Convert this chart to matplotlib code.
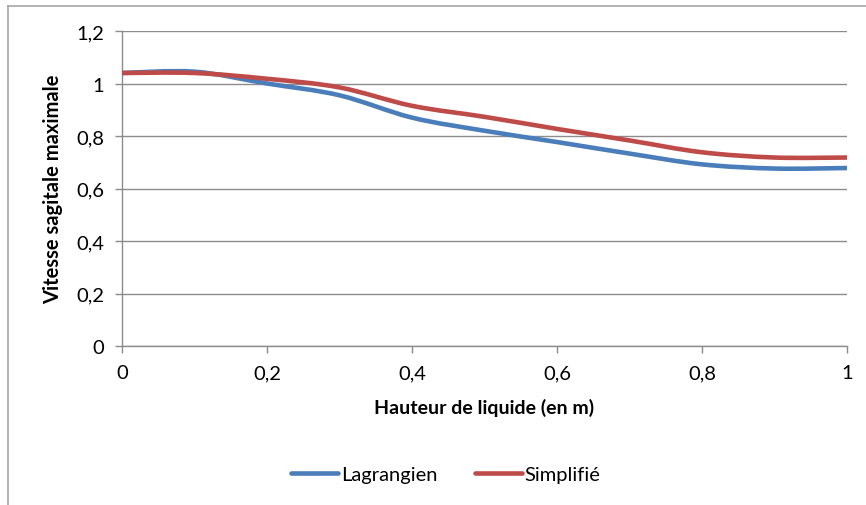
import matplotlib
matplotlib.use("Agg")
import matplotlib.pyplot as plt
from matplotlib.path import Path
from matplotlib.patches import PathPatch
from matplotlib.lines import Line2D
from matplotlib.ticker import FuncFormatter
import numpy as np

# Hauteur de liquide (m)
hauteur = [0.0, 0.1, 0.2, 0.3, 0.4, 0.5, 0.6, 0.7, 0.8, 0.9, 1.0]
# Vitesse sagitale maximale
lagrangien = [1.04, 1.045, 1.00, 0.955, 0.87, 0.82, 0.777, 0.733, 0.692, 0.676, 0.678]
simplifie = [1.04, 1.04, 1.018, 0.985, 0.915, 0.873, 0.827, 0.783, 0.738, 0.718, 0.718]

x_ticks = [0, 0.2, 0.4, 0.6, 0.8, 1.0]
y_ticks = [0, 0.2, 0.4, 0.6, 0.8, 1.0, 1.2]

FONT = "Lato"
FS = 14.5
BLUE = "#4A7EBB"
RED = "#BE4B48"
GRID = "#8C8C8C"


def smooth_path(xs, ys):
    """Smoothed line (Catmull-Rom as cubic Bezier segments) through the points."""
    pts = np.column_stack([xs, ys]).astype(float)
    n = len(pts)
    verts = [pts[0]]
    codes = [Path.MOVETO]
    for i in range(n - 1):
        p0 = pts[i - 1] if i > 0 else pts[i]
        p1 = pts[i]
        p2 = pts[i + 1]
        p3 = pts[i + 2] if i + 2 < n else pts[i + 1]
        c1 = p1 + (p2 - p0) / 6.0
        c2 = p2 - (p3 - p1) / 6.0
        verts += [c1, c2, p2]
        codes += [Path.CURVE4] * 3
    return Path(verts, codes)


fig = plt.figure(figsize=(8.66, 5.06), dpi=100)
ax = fig.add_axes([122 / 866, 1 - 347 / 506, (847 - 122) / 866, (347 - 32) / 506])

for ys, col in [(lagrangien, BLUE), (simplifie, RED)]:
    patch = PathPatch(smooth_path(hauteur, ys), fill=False, edgecolor=col,
                      lw=3.3, capstyle="round", joinstyle="round", zorder=3)
    ax.add_patch(patch)

ax.set_xlim(0, 1)
ax.set_ylim(0, 1.2)
ax.set_xticks(x_ticks)
ax.set_yticks(y_ticks)
fmt = FuncFormatter(lambda v, p: ("%g" % round(v, 2)).replace(".", ","))
ax.xaxis.set_major_formatter(fmt)
ax.yaxis.set_major_formatter(fmt)

ax.grid(axis="y", color=GRID, lw=1.0)
ax.set_axisbelow(True)
for s in ["top", "right"]:
    ax.spines[s].set_visible(False)
for s in ["left", "bottom"]:
    ax.spines[s].set_color(GRID)
    ax.spines[s].set_linewidth(1.0)
ax.tick_params(axis="both", colors=GRID, length=5, width=1.0, labelsize=FS,
               labelcolor="black")
ax.tick_params(axis="x", direction="out", pad=8)
ax.tick_params(axis="y", direction="out", pad=8)
for lab in ax.get_xticklabels() + ax.get_yticklabels():
    lab.set_fontfamily(FONT)

ax.set_xlabel("Hauteur de liquide (en m)", fontfamily=FONT, fontweight="bold",
              fontsize=FS - 0.5, labelpad=12)
ax.set_ylabel("Vitesse sagitale maximale", fontfamily=FONT, fontweight="bold",
              fontsize=FS, labelpad=9)

handles = [Line2D([], [], color=BLUE, lw=3.3, solid_capstyle="round"),
           Line2D([], [], color=RED, lw=3.3, solid_capstyle="round")]
fig.legend(handles, ["Lagrangien", "Simplifié"], loc="center",
           bbox_to_anchor=(446 / 866, 1 - 475 / 506), ncol=2, frameon=False,
           prop={"family": FONT, "size": FS}, handlelength=2.3,
           handletextpad=0.15, columnspacing=1.9)

# chart frame
fig.add_artist(Line2D([8 / 866, 8 / 866], [0, 1 - 7 / 506], transform=fig.transFigure,
                      color="#A6A6A6", lw=1.2))
fig.add_artist(Line2D([8 / 866, 1], [1 - 7 / 506, 1 - 7 / 506], transform=fig.transFigure,
                      color="#A6A6A6", lw=1.2))

fig.savefig("out.png", dpi=100)
